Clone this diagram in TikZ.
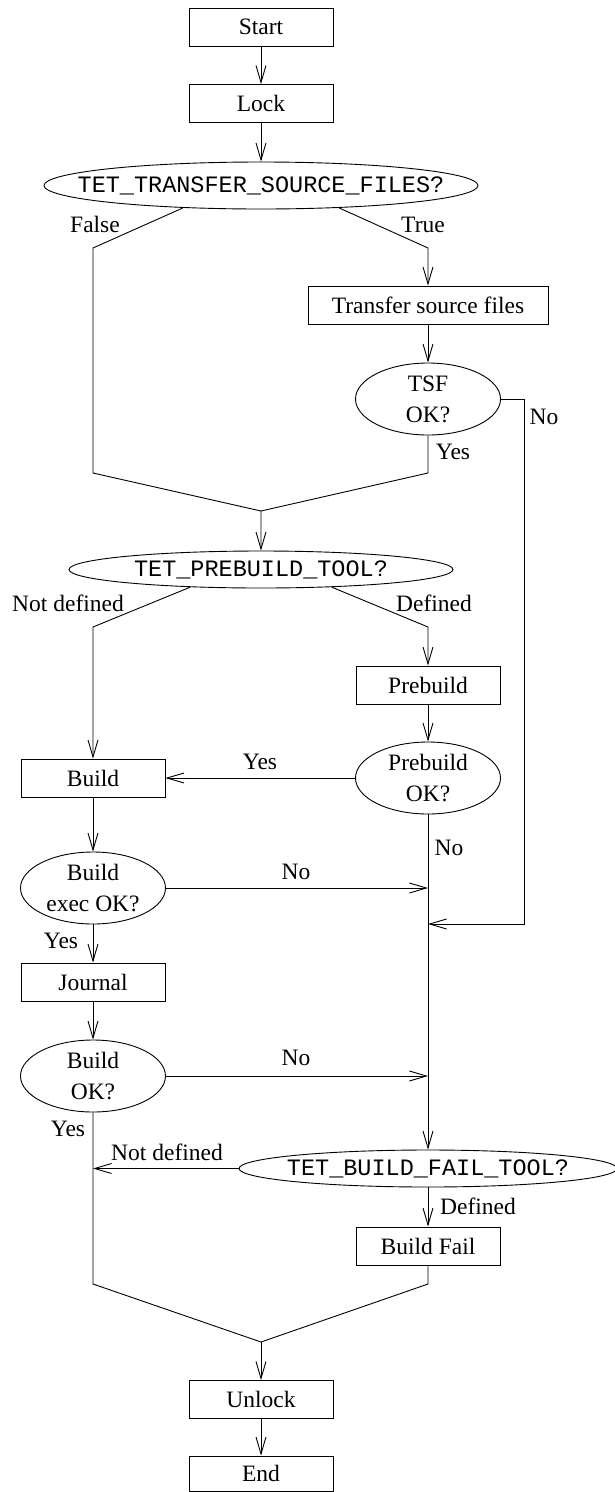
\documentclass[tikz,border=0pt]{standalone}
\usepackage{fontspec}
\setmainfont{Liberation Serif}
\setmonofont{Liberation Mono}
\usetikzlibrary{arrows.meta,shapes.geometric}
\tikzset{>={Straight Barb[length=17pt,width=10pt]}}
\tikzset{
  box/.style={draw, minimum width=144pt, minimum height=38pt, inner sep=0pt},
  ask/.style={draw, ellipse, minimum width=145pt, minimum height=72pt, inner sep=0pt, align=center},
  bigask/.style={draw, ellipse, inner sep=0pt},
  lbl/.style={inner sep=0pt}
}
\newcommand{\envvar}[1]{\makebox[0pt]{\ttfamily #1}}

\begin{document}
\begin{tikzpicture}[x=1pt, y=-1pt, line width=0.9pt, font=\fontsize{23.5}{31}\selectfont]
  \useasboundingbox (0,0) rectangle (615,1492);
  % steps and questions
  \node[box] (start) at (261,27) {Start};
  \node[box] (lock) at (261,103.5) {Lock};
  \node[bigask, minimum width=434pt, minimum height=47pt] (tsfq) at (261,185.5) {\envvar{TET\_TRANSFER\_SOURCE\_FILES?}};
  \node[box, minimum width=240pt] (transfer) at (428,305) {Transfer source files};
  \node[ask] (tsfok) at (428,399) {TSF\\OK?};
  \node[bigask, minimum width=384pt, minimum height=37pt] (pbq) at (261,569.5) {\envvar{TET\_PREBUILD\_TOOL?}};
  \node[box] (prebuild) at (428,685) {Prebuild};
  \node[ask] (pbok) at (428,778) {Prebuild\\OK?};
  \node[box] (build) at (93,778) {Build};
  \node[ask] (bexec) at (93,888) {Build\\exec OK?};
  \node[box] (journal) at (93,982) {Journal};
  \node[ask] (bok) at (93,1076) {Build\\OK?};
  \node[bigask, minimum width=378pt, minimum height=37pt] (bfq) at (428,1168.5) {\envvar{TET\_BUILD\_FAIL\_TOOL?}};
  \node[box] (bfail) at (428,1246) {Build Fail};
  \node[box] (unlock) at (261,1399.5) {Unlock};
  \node[box, minimum height=35pt] (end) at (261,1473.5) {End};
  \coordinate (fjoin) at (261,511);
  \coordinate (bjoin) at (261,1342);
  \coordinate (tsfno) at (524,924);
  % flow
  \draw[->] (start) -- (lock);
  \draw[->] (lock) -- (tsfq);
  \draw[->] (tsfq.196) -- (93,248) -- (93,473) -- (fjoin) -- (pbq);
  \draw[->] (tsfq.344) -- (428,248) -- (transfer);
  \draw[->] (transfer) -- (tsfok);
  \draw (tsfok) -- (428,473) -- (fjoin);
  \draw[->] (tsfok.east) -| (tsfno) -- (tsfno -| pbok.south);
  \draw[->] (pbq.194) -- (93,627) -- (build);
  \draw[->] (pbq.346) -- (428,627) -- (prebuild);
  \draw[->] (prebuild) -- (pbok);
  \draw[->] (pbok) -- (build);
  \draw[->] (pbok) -- (bfq);
  \draw[->] (build) -- (bexec);
  \draw[->] (bexec.east) -- (bexec.east -| pbok.south);
  \draw[->] (bexec) -- (journal);
  \draw[->] (journal) -- (bok);
  \draw[->] (bok.east) -- (bok.east -| pbok.south);
  \draw (bok) -- (93,1284) -- (bjoin);
  \draw[->] (bfq.west) -- (bfq.west -| bok.south);
  \draw[->] (bfq) -- (bfail);
  \draw (bfail) -- (428,1284) -- (bjoin);
  \draw[->] (bjoin) -- (unlock);
  \draw[->] (unlock) -- (end);
  % answers
  \node[lbl] (lfalse) at (95,224) {False};
  \node[lbl] (ltrue) at (423,225) {True};
  \node[lbl] (ltsfno) at (544,417) {No};
  \node[lbl] (ltsfyes) at (453,452) {Yes};
  \node[lbl] (lpbnot) at (68,603) {Not defined};
  \node[lbl] (lpbdef) at (434,603) {Defined};
  \node[lbl] (lpbyes) at (260,762) {Yes};
  \node[lbl] (lpbno) at (449,848) {No};
  \node[lbl] (lexecno) at (296,872) {No};
  \node[lbl] (lexecyes) at (61,941) {Yes};
  \node[lbl] (lbokno) at (296,1058) {No};
  \node[lbl] (lbokyes) at (68,1129) {Yes};
  \node[lbl] (lbfnot) at (167,1152) {Not defined};
  \node[lbl] (lbfdef) at (478,1206) {Defined};
\end{tikzpicture}
\end{document}
